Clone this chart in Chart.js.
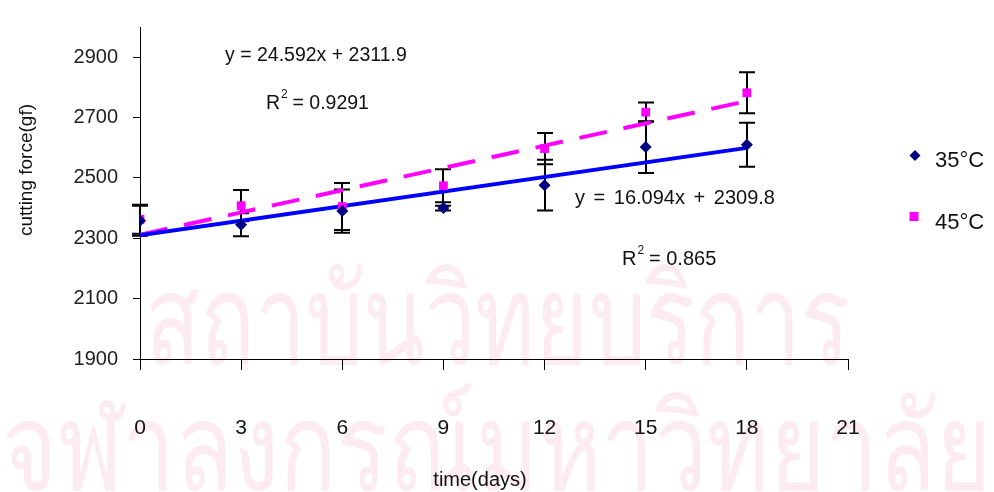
<!DOCTYPE html>
<html><head><meta charset="utf-8">
<script src="https://cdn.jsdelivr.net/npm/chart.js@4/dist/chart.umd.min.js"></script>
<style>html,body{margin:0;padding:0;background:#fff;overflow:hidden}#wrap{width:994px;height:492px;position:relative}</style>
</head><body><div id="wrap"><canvas id="c" width="994" height="492"></canvas></div>
<script>
const days = [0, 3, 6, 9, 12, 15, 18];
const force35 = [2358, 2345, 2390, 2400, 2476, 2602, 2610];
const err35 = [50, 38, 72, 8, 84, 86, 73];
const force45 = [2363, 2408, 2405, 2474, 2597, 2718, 2782];
const err45 = [48, 52, 78, 55, 52, 32, 68];
const trendX = [0, 18];
const trend35 = [2309.8, 2599.5];
const trend45 = [2311.9, 2754.6];
const seriesNames = ['35°C', '45°C'];
const xTicks = [0, 3, 6, 9, 12, 15, 18, 21];
const yTicks = [1900, 2100, 2300, 2500, 2700, 2900];
const eq35 = 'y = 16.094x + 2309.8', r2_35 = ' = 0.865';
const eq45 = 'y = 24.592x + 2311.9', r2_45 = ' = 0.9291';
const xTitle = 'time(days)', yTitle = 'cutting force(gf)';
const watermark = ['สถาบันวิทยบริการ', 'จุฬาลงกรณ์มหาวิทยาลัย'];

const C35 = '#000080', C45 = '#FF00FF', L35 = '#0000FF';
const pts = (xs, ys) => xs.map((x, i) => ({x, y: ys[i]}));

const watermarkPlugin = {
  id: 'wm',
  beforeDraw(chart) {
    const ctx = chart.ctx;
    ctx.save();
    ctx.fillStyle = '#fcecf1';
    ctx.textBaseline = 'alphabetic';
    ctx.textAlign = 'center';
    const fit = (txt, w, cx, base, sy) => {
      ctx.font = '100px "Noto Sans", "DejaVu Sans", sans-serif';
      const m = ctx.measureText(txt).width;
      ctx.save();
      ctx.translate(cx, base);
      ctx.scale(w / m, sy);
      ctx.fillText(txt, 0, 0);
      ctx.restore();
    };
    fit(watermark[0], 705, 497, 364, 1.25);
    fit(watermark[1], 990, 497, 490, 1.22);
    ctx.restore();
  }
};

const errPlugin = {
  id: 'err',
  beforeDatasetsDraw(chart) {
    const ctx = chart.ctx, xs = chart.scales.x, ys = chart.scales.y;
    ctx.save();
    ctx.strokeStyle = '#000';
    ctx.lineWidth = 2;
    [[force35, err35], [force45, err45]].forEach(([v, e]) => {
      days.forEach((d, i) => {
        const px = Math.round(xs.getPixelForValue(d));
        const t = ys.getPixelForValue(v[i] + e[i]);
        const b = ys.getPixelForValue(v[i] - e[i]);
        ctx.beginPath();
        ctx.moveTo(px, t); ctx.lineTo(px, b);
        ctx.moveTo(px - 8, t); ctx.lineTo(px + 8, t);
        ctx.moveTo(px - 8, b); ctx.lineTo(px + 8, b);
        ctx.stroke();
      });
    });
    ctx.restore();
  }
};

const textPlugin = {
  id: 'txt',
  afterDraw(chart) {
    const ctx = chart.ctx;
    ctx.save();
    ctx.fillStyle = '#111';
    ctx.textBaseline = 'alphabetic';
    ctx.textAlign = 'left';
    ctx.font = '19.5px "Liberation Sans", Arial, sans-serif';
    ctx.fillText(eq45, 225, 61);
    ctx.font = '20px "Liberation Sans", Arial, sans-serif';
    ctx.wordSpacing = '3px';
    ctx.fillText(eq35, 575, 204);
    ctx.wordSpacing = '0px';
    const r2 = (x, y, rest, size) => {
      ctx.font = size + 'px "Liberation Sans", Arial, sans-serif';
      ctx.fillText('R', x, y);
      const w = ctx.measureText('R').width;
      ctx.font = '12px "Liberation Sans", Arial, sans-serif';
      ctx.fillText('2', x + w + 1, y - 11);
      ctx.font = size + 'px "Liberation Sans", Arial, sans-serif';
      ctx.fillText(rest, x + w + 7, y);
    };
    r2(266, 109, r2_45, 19.5);
    r2(622, 265, r2_35, 20);
    ctx.font = '20px "Liberation Sans Narrow", "Liberation Sans", sans-serif';
    ctx.textAlign = 'center';
    ctx.fillText(xTitle, 480, 486);
    ctx.save();
    ctx.translate(32, 170);
    ctx.rotate(-Math.PI / 2);
    ctx.font = '19px "Liberation Sans", Arial, sans-serif';
    ctx.fillText(yTitle, 0, 0);
    ctx.restore();
    ctx.textAlign = 'left';
    ctx.font = '22px "Liberation Sans", Arial, sans-serif';
    ctx.fillStyle = C35;
    ctx.beginPath();
    ctx.moveTo(915, 150); ctx.lineTo(920.5, 155.5); ctx.lineTo(915, 161); ctx.lineTo(909.5, 155.5); ctx.closePath();
    ctx.fill();
    ctx.fillStyle = C45;
    ctx.fillRect(909.5, 212, 9, 9);
    ctx.fillStyle = '#111';
    ctx.fillText(seriesNames[0], 935, 167);
    ctx.fillText(seriesNames[1], 935, 229);
    ctx.restore();
  }
};

new Chart(document.getElementById('c'), {
  type: 'scatter',
  data: {
    datasets: [
      {label: seriesNames[0], data: pts(days, force35), pointStyle: 'rectRot', pointRadius: 6, backgroundColor: C35, borderColor: C35, borderWidth: 0, order: 0},
      {label: seriesNames[1], data: pts(days, force45), pointStyle: 'rect', pointRadius: 6.2, backgroundColor: C45, borderColor: C45, borderWidth: 0, order: 1},
      {label: 'trend35', data: pts(trendX, trend35), showLine: true, borderColor: L35, borderWidth: 4, pointRadius: 0, order: 2},
      {label: 'trend45', data: pts(trendX, trend45), showLine: true, borderColor: C45, borderWidth: 4, borderDash: [28, 17], pointRadius: 0, order: 3}
    ]
  },
  options: {
    responsive: false, animation: false, devicePixelRatio: 1,
    layout: {padding: {top: 12, right: 146, left: 0, bottom: 0}},
    plugins: {legend: {display: false}, tooltip: {enabled: false}},
    scales: {
      x: {
        type: 'linear', min: 0, max: 21,
        afterBuildTicks: s => { s.ticks = xTicks.map(v => ({value: v})); },
        afterFit: s => { s.height = 133; },
        grid: {drawOnChartArea: false, drawTicks: true, tickLength: 11, color: '#000', lineWidth: 1},
        border: {color: '#000', width: 1},
        ticks: {autoSkip: false, maxRotation: 0, padding: 46, color: '#111', callback: v => String(v),
          font: {family: '"Liberation Sans Narrow", "Liberation Sans", sans-serif', size: 21}}
      },
      y: {
        min: 1900, max: 3000,
        afterBuildTicks: s => { s.ticks = yTicks.map(v => ({value: v})); },
        afterFit: s => { s.width = 140; },
        grid: {drawOnChartArea: false, drawTicks: true, tickLength: 7, color: '#000', lineWidth: 1},
        border: {color: '#000', width: 1},
        ticks: {padding: 15, color: '#222', callback: v => String(v), font: {family: '"Liberation Sans", Arial, sans-serif', size: 20}}
      }
    }
  },
  plugins: [watermarkPlugin, errPlugin, textPlugin]
});
</script></body></html>
